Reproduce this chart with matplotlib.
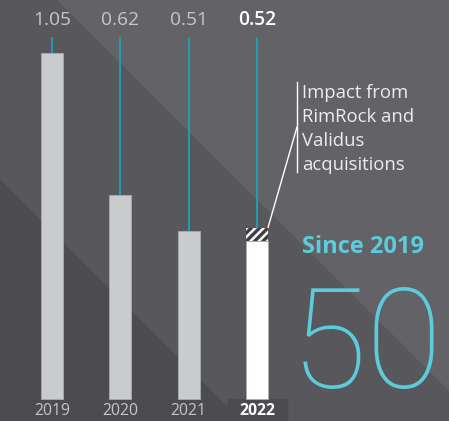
import matplotlib
matplotlib.use('Agg')
from matplotlib import pyplot as plt
from matplotlib.patches import Polygon
import numpy as np

# data
years = ['2019', '2020', '2021', '2022']
values = [1.05, 0.62, 0.51, 0.52]
value_labels = ['1.05', '0.62', '0.51', '0.52']
acquisition_impact = 0.04   # hatched part of the 2022 bar
note = 'Impact from\nRimRock and\nValidus\nacquisitions'
since_label = 'Since 2019'
big_number = '50%'

W, H = 449, 421
BG_MID = '#58575b'
BG_LIGHT = '#636266'
BG_DARK = '#4c4b4f'
BAR_GREY = '#c9cccd'
TEAL_LINE = '#17a6b9'
TEAL_TEXT = '#5ccbdc'

plt.rcParams['font.family'] = ['Open Sans', 'DejaVu Sans']
plt.rcParams['hatch.linewidth'] = 1.8
plt.rcParams['hatch.color'] = 'white'

fig = plt.figure(figsize=(W / 100, H / 100), dpi=100, facecolor=BG_MID)


def px(x, y):
    # pixel (from top-left) -> figure fraction
    return x / W, 1 - y / H


# background bands (behind the axes)
for pts, col in [([(58, 0), (449, 0), (449, 390)], BG_LIGHT),
                 ([(0, 180), (0, 421), (241, 421)], BG_DARK),
                 ([(228, 399), (287, 399), (287, 421), (228, 421)], BG_DARK)]:
    fig.patches.append(Polygon([px(*p) for p in pts], closed=True,
                               transform=fig.transFigure, color=col, zorder=-1))

ax = fig.add_axes([0, 0, 1, 1])
ax.set_facecolor('none')
ax.axis('off')
ax.set_xlim(-0.761, 5.81)
ax.set_ylim(-0.0668, 1.211)

x = np.arange(len(years))
bw = 0.322
base = [v for v in values]
base[-1] = values[-1] - acquisition_impact
colors = [BAR_GREY] * 3 + ['white']

ax.bar(x, base, width=bw, color=colors, edgecolor='#a9acae', linewidth=0.6, zorder=3)
ax.bar(x[-1], acquisition_impact, bottom=base[-1], width=bw, color='#3f3e42',
       hatch='////', linewidth=0, zorder=3)

# teal leader lines from label to bar top
ax.vlines(x, values, 1.099, color=TEAL_LINE, lw=1.3, zorder=2)

for i, (lab, yr) in enumerate(zip(value_labels, years)):
    last = i == len(years) - 1
    ax.text(x[i], 1.15, lab, ha='center', va='center', fontsize=13.8,
            color='white' if last else '#c5c7c8', fontweight='semibold' if last else 'normal')
    ax.text(x[i], -0.036, yr, ha='center', va='center', fontsize=11.3,
            color='white' if last else '#c5c7c8', fontweight='bold' if last else 'normal')

# note on the acquisitions
fig.text(*px(302, 84), note, ha='left', va='top', fontsize=13.3, color='#ececec',
         linespacing=1.42)
fig.add_artist(plt.Line2D([296.5 / W, 296.5 / W], [1 - 82 / H, 1 - 172 / H],
                          transform=fig.transFigure, color='white', lw=1))
ax.annotate('', xy=(x[-1] + bw / 2, values[-1]), xycoords='data',
            xytext=px(297, 127), textcoords='figure fraction',
            arrowprops=dict(arrowstyle='-', color='white', lw=1, shrinkA=0, shrinkB=0))

fig.text(*px(302, 247), since_label, ha='left', va='center', fontsize=17,
         fontweight='bold', color=TEAL_TEXT)
fig.text(*px(291, 388), big_number, ha='left', va='baseline', fontsize=100,
         family=['Roboto', 'DejaVu Sans'], fontweight=100, color=TEAL_TEXT)

fig.savefig('out.png', dpi=100, facecolor=fig.get_facecolor())
